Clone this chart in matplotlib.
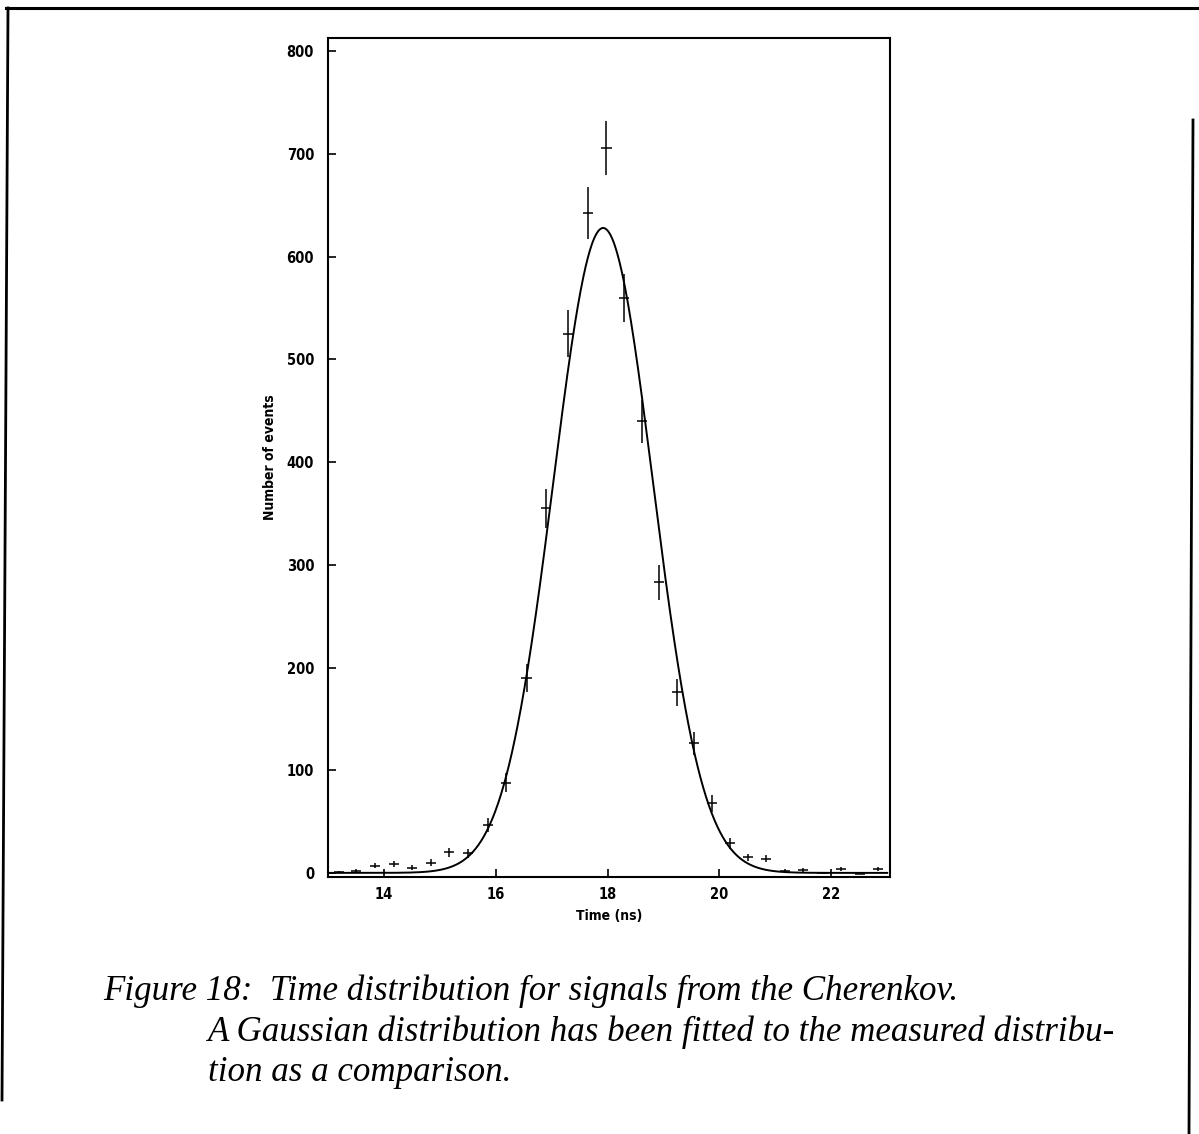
import numpy as np
import matplotlib
matplotlib.use("Agg")
import matplotlib.pyplot as plt
from matplotlib.lines import Line2D

# ---- data ----
time_ns = [13.19, 13.50, 13.84, 14.18, 14.51, 14.85, 15.17, 15.50, 15.86, 16.19,
           16.55, 16.90, 17.29, 17.65, 17.98, 18.30, 18.62, 18.92, 19.24, 19.54,
           19.86, 20.19, 20.51, 20.83, 21.17, 21.50, 21.84, 22.18, 22.51, 22.83]
events = [1, 2, 7, 9, 5, 10, 20, 19, 47, 88,
          190, 355, 525, 643, 706, 560, 440, 283, 176, 126,
          68, 29, 15, 14, 2, 3, 0, 4, -1, 4]
time_halfwidth = 0.09

# Gaussian fit parameters
fit_amp = 628.0
fit_mu = 17.92
fit_sigma = 0.89

xticks = [14, 16, 18, 20, 22]
yticks = [0, 100, 200, 300, 400, 500, 600, 700, 800]

W, H = 1199, 1134
fig = plt.figure(figsize=(W / 100, H / 100), dpi=100)

def fx(px):
    return px / W

def fy(py):
    return 1 - py / H

ax = fig.add_axes([fx(328), fy(877), fx(890) - fx(328), fy(38) - fy(877)])

ev = np.array(events, dtype=float)
yerr = np.sqrt(np.clip(ev, 0, None))
ax.errorbar(time_ns, ev, yerr=yerr, xerr=time_halfwidth, fmt='none',
            ecolor='black', elinewidth=1.1, capsize=0)

tt = np.linspace(13.0, 23.0, 800)
ax.plot(tt, fit_amp * np.exp(-0.5 * ((tt - fit_mu) / fit_sigma) ** 2),
        color='black', lw=1.4)

ax.set_xlim(13.0, 23.05)
ax.set_ylim(-4, 813)
ax.set_xticks(xticks)
ax.set_yticks(yticks)

tickfont = dict(family=['DejaVu Sans'], weight='bold', stretch='condensed', size=10.5)
labfont = dict(family=['DejaVu Sans'], weight='bold', stretch='condensed', size=10)
ax.set_xticklabels([str(v) for v in xticks], **tickfont)
ax.set_yticklabels([str(v) for v in yticks], **tickfont)
ax.tick_params(axis='both', direction='in', length=6, width=1.2)
ax.tick_params(axis='x', pad=7)
ax.tick_params(axis='y', pad=10)
for s in ax.spines.values():
    s.set_linewidth(1.5)

ax.set_xlabel('Time (ns)', labelpad=5, **labfont)
ax.set_ylabel('Number of events', labelpad=7, **labfont)

# caption
capfont = dict(family=['Liberation Serif', 'DejaVu Serif'], style='italic', size=25.2)
fig.text(fx(103), fy(1000), 'Figure 18:  Time distribution for signals from the Cherenkov.',
         ha='left', va='baseline', **capfont)
fig.text(fx(208), fy(1041), 'A Gaussian distribution has been fitted to the measured distribu-',
         ha='left', va='baseline', **capfont)
fig.text(fx(208), fy(1081), 'tion as a comparison.',
         ha='left', va='baseline', **capfont)

# page frame
fig.add_artist(Line2D([fx(6), 1.0], [fy(8), fy(8)], color='black', lw=2.2))
fig.add_artist(Line2D([fx(8), fx(2)], [fy(8), fy(1100)], color='black', lw=2.0))
fig.add_artist(Line2D([fx(1193), fx(1189)], [fy(120), 0.0], color='black', lw=2.0))

fig.savefig('out.png', dpi=100, facecolor='white')
